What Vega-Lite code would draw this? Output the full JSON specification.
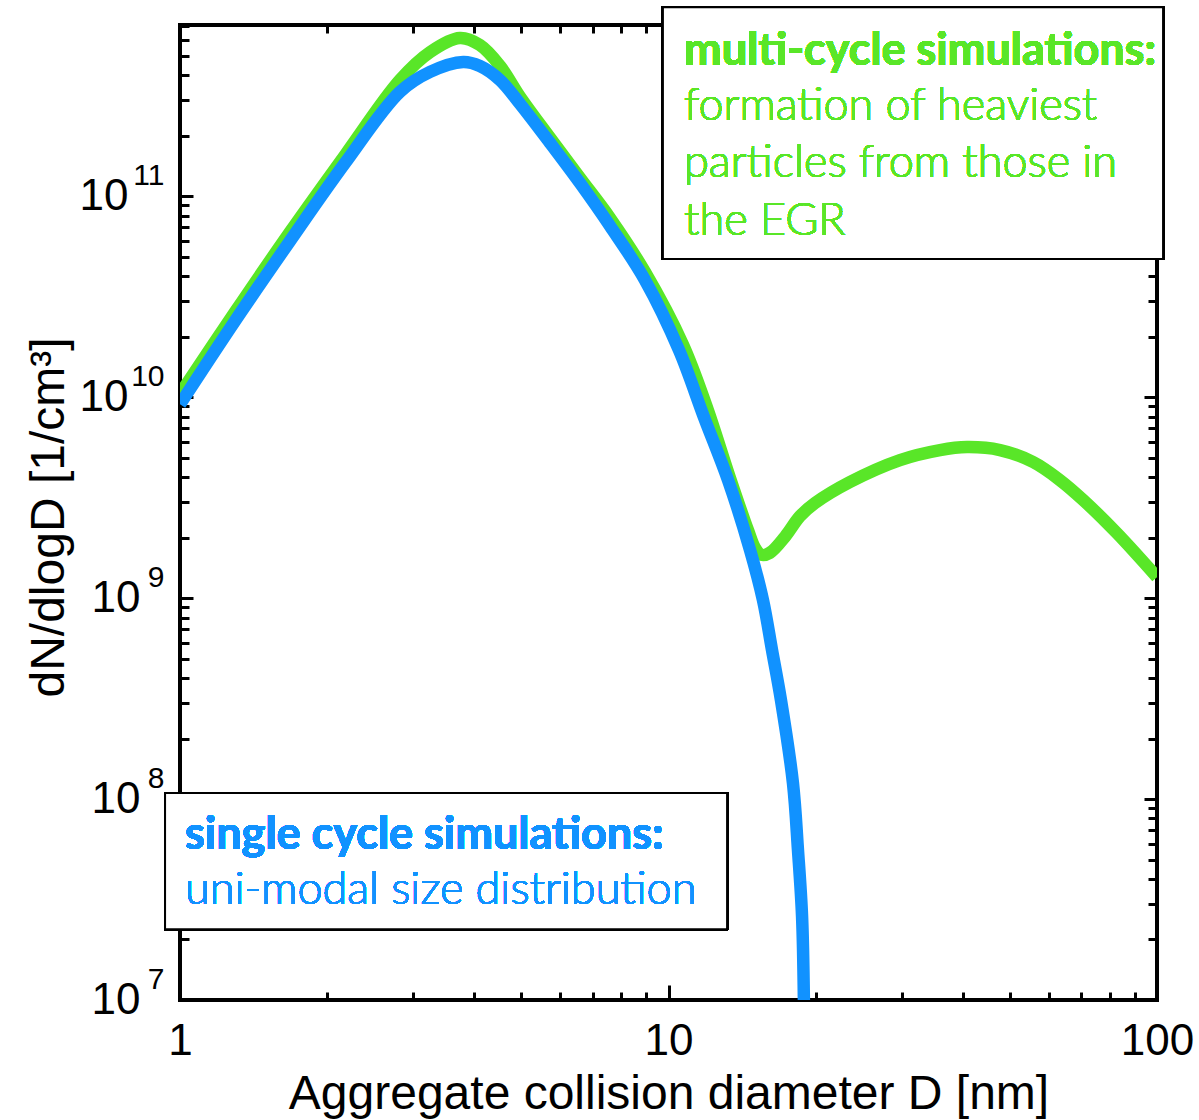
{
  "$schema": "https://vega.github.io/schema/vega-lite/v6.json",
  "width": 977,
  "height": 975,
  "autosize": "none",
  "padding": {"left": 180, "top": 25, "right": 42, "bottom": 120},
  "background": "white",
  "config": {
    "view": {"stroke": "black", "strokeWidth": 4},
    "axis": {"grid": false, "domain": false, "tickColor": "black", "tickWidth": 3, "labelColor": "black", "titleColor": "black", "labelFont": "Liberation Sans", "titleFont": "Liberation Sans", "titleFontWeight": "normal", "labelFlush": false, "labelOverlap": false}
  },
  "data": {
    "values": [
      {"series": "multi", "D": 1.0, "dN": 1.035e10},
      {"series": "multi", "D": 1.296, "dN": 2.65e10},
      {"series": "multi", "D": 1.679, "dN": 6.62e10},
      {"series": "multi", "D": 2.177, "dN": 1.60e11},
      {"series": "multi", "D": 2.82, "dN": 3.78e11},
      {"series": "multi", "D": 3.25, "dN": 5.20e11},
      {"series": "multi", "D": 3.74, "dN": 6.11e11},
      {"series": "multi", "D": 4.11, "dN": 5.64e11},
      {"series": "multi", "D": 4.52, "dN": 4.44e11},
      {"series": "multi", "D": 4.97, "dN": 3.11e11},
      {"series": "multi", "D": 5.72, "dN": 1.95e11},
      {"series": "multi", "D": 6.59, "dN": 1.23e11},
      {"series": "multi", "D": 7.59, "dN": 7.78e10},
      {"series": "multi", "D": 8.95, "dN": 4.19e10},
      {"series": "multi", "D": 10.71, "dN": 1.82e10},
      {"series": "multi", "D": 11.94, "dN": 9.12e9},
      {"series": "multi", "D": 13.36, "dN": 3.96e9},
      {"series": "multi", "D": 14.54, "dN": 2.18e9},
      {"series": "multi", "D": 15.04, "dN": 1.77e9},
      {"series": "multi", "D": 15.5, "dN": 1.64e9},
      {"series": "multi", "D": 16.13, "dN": 1.68e9},
      {"series": "multi", "D": 17.32, "dN": 2.02e9},
      {"series": "multi", "D": 18.58, "dN": 2.55e9},
      {"series": "multi", "D": 19.95, "dN": 2.97e9},
      {"series": "multi", "D": 23.52, "dN": 3.78e9},
      {"series": "multi", "D": 29.78, "dN": 4.86e9},
      {"series": "multi", "D": 35.96, "dN": 5.45e9},
      {"series": "multi", "D": 40.85, "dN": 5.64e9},
      {"series": "multi", "D": 47.71, "dN": 5.45e9},
      {"series": "multi", "D": 55.75, "dN": 4.75e9},
      {"series": "multi", "D": 63.3, "dN": 3.86e9},
      {"series": "multi", "D": 70.56, "dN": 3.08e9},
      {"series": "multi", "D": 82.83, "dN": 2.10e9},
      {"series": "multi", "D": 100, "dN": 1.27e9},
      {"series": "single", "D": 1.0, "dN": 9.2e9},
      {"series": "single", "D": 1.296, "dN": 2.39e10},
      {"series": "single", "D": 1.679, "dN": 5.97e10},
      {"series": "single", "D": 2.177, "dN": 1.46e11},
      {"series": "single", "D": 2.82, "dN": 3.30e11},
      {"series": "single", "D": 3.25, "dN": 4.15e11},
      {"series": "single", "D": 3.8, "dN": 4.65e11},
      {"series": "single", "D": 4.11, "dN": 4.44e11},
      {"series": "single", "D": 4.52, "dN": 3.78e11},
      {"series": "single", "D": 4.97, "dN": 2.87e11},
      {"series": "single", "D": 5.72, "dN": 1.84e11},
      {"series": "single", "D": 6.59, "dN": 1.16e11},
      {"series": "single", "D": 7.59, "dN": 7.10e10},
      {"series": "single", "D": 8.95, "dN": 3.82e10},
      {"series": "single", "D": 10.51, "dN": 1.71e10},
      {"series": "single", "D": 11.82, "dN": 7.94e9},
      {"series": "single", "D": 13.24, "dN": 3.86e9},
      {"series": "single", "D": 14.69, "dN": 1.73e9},
      {"series": "single", "D": 15.61, "dN": 9.77e8},
      {"series": "single", "D": 16.29, "dN": 5.51e8},
      {"series": "single", "D": 16.99, "dN": 3.11e8},
      {"series": "single", "D": 17.98, "dN": 1.20e8},
      {"series": "single", "D": 18.41, "dN": 5.57e7},
      {"series": "single", "D": 18.77, "dN": 2.59e7},
      {"series": "single", "D": 18.94, "dN": 8.9e6}
    ]
  },
  "resolve": {"axis": {"x": "independent", "y": "independent"}},
  "layer": [
    {
      "transform": [{"filter": "datum.series == 'multi'"}],
      "mark": {"type": "line", "color": "#59E628", "strokeWidth": 12.5, "clip": true, "interpolate": "catmull-rom"},
      "encoding": {
        "x": {"field": "D", "type": "quantitative", "scale": {"type": "log", "domain": [1, 100], "nice": false},
          "axis": {"orient": "bottom", "values": [1, 10, 100], "format": "d", "ticks": false, "labelFontSize": 44, "labelPadding": 19, "labelBaseline": "top",
            "title": "Aggregate collision diameter D [nm]", "titleFontSize": 48, "titleX": 488.5, "titleY": 108, "titleBaseline": "alphabetic", "titleAlign": "center"}},
        "y": {"field": "dN", "type": "quantitative", "scale": {"type": "log", "domain": [1e7, 7.1e11], "nice": false},
          "axis": {"orient": "left", "values": [1e10, 1e11], "ticks": false, "labelFontSize": 44, "labelPadding": 52, "labelExpr": "'10'",
            "title": "dN/dlogD [1/cm³]", "titleFontSize": 48, "titleX": -117, "titleY": 492, "titleAngle": -90, "titleBaseline": "alphabetic", "titleAlign": "center"}}
      }
    },
    {
      "transform": [{"filter": "datum.series == 'single'"}],
      "mark": {"type": "line", "color": "#1192FF", "strokeWidth": 12.5, "clip": true, "interpolate": "catmull-rom"},
      "encoding": {
        "x": {"field": "D", "type": "quantitative", "scale": {"type": "log", "domain": [1, 100], "nice": false},
          "axis": {"orient": "bottom", "values": [10], "labels": false, "tickSize": -15, "title": null}},
        "y": {"field": "dN", "type": "quantitative", "scale": {"type": "log", "domain": [1e7, 7.1e11], "nice": false},
          "axis": {"orient": "left", "values": [1e8, 1e9, 1e10, 1e11], "labels": false, "tickSize": -13, "title": null}}
      }
    },
    {
      "transform": [{"filter": "datum.series == 'single'"}],
      "mark": {"type": "line", "strokeOpacity": 0, "clip": true},
      "encoding": {
        "x": {"field": "D", "type": "quantitative", "scale": {"type": "log", "domain": [1, 100], "nice": false},
          "axis": {"orient": "bottom", "values": [2, 3, 4, 5, 6, 7, 8, 9, 20, 30, 40, 50, 60, 70, 80, 90], "labels": false, "tickSize": -8, "title": null}},
        "y": {"field": "dN", "type": "quantitative", "scale": {"type": "log", "domain": [1e7, 7.1e11], "nice": false},
          "axis": {"orient": "left", "values": [2e7, 3e7, 4e7, 5e7, 6e7, 7e7, 8e7, 9e7, 2e8, 3e8, 4e8, 5e8, 6e8, 7e8, 8e8, 9e8, 2e9, 3e9, 4e9, 5e9, 6e9, 7e9, 8e9, 9e9, 2e10, 3e10, 4e10, 5e10, 6e10, 7e10, 8e10, 9e10, 2e11, 3e11, 4e11, 5e11, 6e11, 7e11], "labels": false, "tickSize": -9, "title": null}}
      }
    },
    {
      "transform": [{"filter": "datum.series == 'single'"}],
      "mark": {"type": "line", "strokeOpacity": 0, "clip": true},
      "encoding": {
        "x": {"field": "D", "type": "quantitative", "scale": {"type": "log", "domain": [1, 100], "nice": false},
          "axis": {"orient": "top", "values": [10], "labels": false, "tickSize": -15, "title": null}},
        "y": {"field": "dN", "type": "quantitative", "scale": {"type": "log", "domain": [1e7, 7.1e11], "nice": false},
          "axis": {"orient": "right", "values": [1e8, 1e9, 1e10, 1e11], "labels": false, "tickSize": -13, "title": null}}
      }
    },
    {
      "transform": [{"filter": "datum.series == 'single'"}],
      "mark": {"type": "line", "strokeOpacity": 0, "clip": true},
      "encoding": {
        "x": {"field": "D", "type": "quantitative", "scale": {"type": "log", "domain": [1, 100], "nice": false},
          "axis": {"orient": "top", "values": [2, 3, 4, 5, 6, 7, 8, 9, 20, 30, 40, 50, 60, 70, 80, 90], "labels": false, "tickSize": -8, "title": null}},
        "y": {"field": "dN", "type": "quantitative", "scale": {"type": "log", "domain": [1e7, 7.1e11], "nice": false},
          "axis": {"orient": "right", "values": [2e7, 3e7, 4e7, 5e7, 6e7, 7e7, 8e7, 9e7, 2e8, 3e8, 4e8, 5e8, 6e8, 7e8, 8e8, 9e8, 2e9, 3e9, 4e9, 5e9, 6e9, 7e9, 8e9, 9e9, 2e10, 3e10, 4e10, 5e10, 6e10, 7e10, 8e10, 9e10, 2e11, 3e11, 4e11, 5e11, 6e11, 7e11], "labels": false, "tickSize": -9, "title": null}}
      }
    },
    {
      "transform": [{"filter": "datum.series == 'single'"}],
      "mark": {"type": "line", "strokeOpacity": 0, "clip": true},
      "encoding": {
        "x": {"field": "D", "type": "quantitative", "scale": {"type": "log", "domain": [1, 100], "nice": false}, "axis": null},
        "y": {"field": "dN", "type": "quantitative", "scale": {"type": "log", "domain": [1e7, 7.1e11], "nice": false},
          "axis": {"orient": "left", "values": [1e7, 1e8, 1e9], "ticks": false, "labelFontSize": 44, "labelPadding": 40, "labelExpr": "'10'", "title": null}}
      }
    },
    {
      "transform": [{"filter": "datum.series == 'single'"}],
      "mark": {"type": "line", "strokeOpacity": 0, "clip": true},
      "encoding": {
        "x": {"field": "D", "type": "quantitative", "scale": {"type": "log", "domain": [1, 100], "nice": false}, "axis": null},
        "y": {"field": "dN", "type": "quantitative", "scale": {"type": "log", "domain": [1e7, 7.1e11], "nice": false},
          "axis": {"orient": "left", "values": [1e7, 1e8, 1e9, 1e10, 1e11], "ticks": false, "labelFontSize": 30, "labelPadding": 16, "labelOffset": -21,
            "labelExpr": "datum.value >= 9e10 ? '11' : datum.value >= 9e9 ? '10' : datum.value >= 9e8 ? '9' : datum.value >= 9e7 ? '8' : '7'", "title": null}}
      }
    },
    {
      "mark": {"type": "rect", "fill": "white", "stroke": "black", "strokeWidth": 2, "clip": false},
      "encoding": {
        "x": {"datum": 9.74, "type": "quantitative", "scale": {"type": "log", "domain": [1, 100], "nice": false}, "axis": null},
        "x2": {"datum": 102.9},
        "y": {"datum": 8.7e11, "type": "quantitative", "scale": {"type": "log", "domain": [1e7, 7.1e11], "nice": false}, "axis": null},
        "y2": {"datum": 4.86e10}
      }
    },
    {
      "mark": {"type": "rect", "fill": "white", "stroke": "black", "strokeWidth": 2, "clip": false},
      "encoding": {
        "x": {"datum": 0.932, "type": "quantitative", "scale": {"type": "log", "domain": [1, 100], "nice": false}, "axis": null},
        "x2": {"datum": 13.18},
        "y": {"datum": 1.07e8, "type": "quantitative", "scale": {"type": "log", "domain": [1e7, 7.1e11], "nice": false}, "axis": null},
        "y2": {"datum": 2.25e7}
      }
    },
    {
      "mark": {"type": "text", "text": "multi-cycle simulations:", "font": "Lato", "fontWeight": "bold", "fontSize": 45, "color": "#59E628", "align": "left", "baseline": "alphabetic", "clip": false},
      "encoding": {
        "x": {"datum": 10.76, "type": "quantitative", "scale": {"type": "log", "domain": [1, 100], "nice": false}, "axis": null},
        "y": {"datum": 4.5e11, "type": "quantitative", "scale": {"type": "log", "domain": [1e7, 7.1e11], "nice": false}, "axis": null}
      }
    },
    {
      "mark": {"type": "text", "text": ["formation of heaviest", "particles from those in", "the EGR"], "lineHeight": 57.5, "font": "Lato", "fontWeight": 300, "fontSize": 45, "color": "#59E628", "align": "left", "baseline": "alphabetic", "clip": false},
      "encoding": {
        "x": {"datum": 10.76, "type": "quantitative", "scale": {"type": "log", "domain": [1, 100], "nice": false}, "axis": null},
        "y": {"datum": 2.4e11, "type": "quantitative", "scale": {"type": "log", "domain": [1e7, 7.1e11], "nice": false}, "axis": null}
      }
    },
    {
      "mark": {"type": "text", "text": "single cycle simulations:", "font": "Lato", "fontWeight": "bold", "fontSize": 45, "color": "#1192FF", "align": "left", "baseline": "alphabetic", "clip": false},
      "encoding": {
        "x": {"datum": 1.024, "type": "quantitative", "scale": {"type": "log", "domain": [1, 100], "nice": false}, "axis": null},
        "y": {"datum": 5.64e7, "type": "quantitative", "scale": {"type": "log", "domain": [1e7, 7.1e11], "nice": false}, "axis": null}
      }
    },
    {
      "mark": {"type": "text", "text": "uni-modal size distribution", "font": "Lato", "fontWeight": 300, "fontSize": 45, "color": "#1192FF", "align": "left", "baseline": "alphabetic", "clip": false},
      "encoding": {
        "x": {"datum": 1.024, "type": "quantitative", "scale": {"type": "log", "domain": [1, 100], "nice": false}, "axis": null},
        "y": {"datum": 3.01e7, "type": "quantitative", "scale": {"type": "log", "domain": [1e7, 7.1e11], "nice": false}, "axis": null}
      }
    }
  ]
}
